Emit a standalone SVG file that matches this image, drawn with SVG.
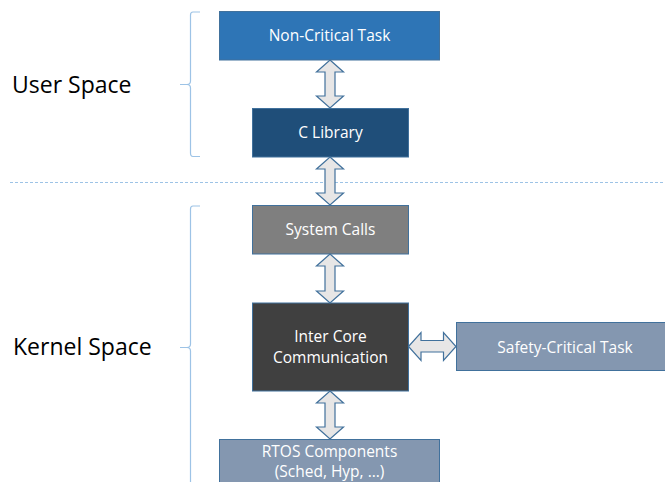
<svg xmlns="http://www.w3.org/2000/svg" width="665" height="482" viewBox="0 0 665 482">
  <style>
    .box { stroke: #41719C; stroke-width: 1; }
    .lbl { font-family: "Open Sans", "Liberation Sans", sans-serif; font-size: 15.5px; fill: #FFFFFF; text-anchor: middle; }
    .side { font-family: "Open Sans", "Liberation Sans", sans-serif; font-size: 23px; fill: #000000; }
    .brace { fill: none; stroke: #9DC3E6; stroke-width: 1.2; }
    .arrow { fill: #E7E6E6; stroke: #41719C; stroke-width: 1.2; stroke-linejoin: miter; }
  </style>
  <rect width="665" height="482" fill="#FFFFFF"/>

  <!-- side labels and braces -->
  <g id="user-space">
    <text class="side" x="12" y="93">User Space</text>
    <path class="brace" d="M200,12 H193 Q190.5,12 190.5,15 V81 Q190.5,84.5 187,84.5 H180 H187 Q190.5,84.5 190.5,88 V153 Q190.5,156.5 193,156.5 H200"/>
  </g>
  <g id="kernel-space">
    <text class="side" x="13" y="355">Kernel Space</text>
    <path class="brace" d="M200,206 H193 Q190.5,206 190.5,209 V344 Q190.5,347.5 187,347.5 H180 H187 Q190.5,347.5 190.5,351 V490"/>
  </g>

  <!-- user/kernel boundary -->
  <line x1="10" y1="182.5" x2="665" y2="182.5" stroke="#9DC3E6" stroke-width="1" stroke-dasharray="3,2"/>

  <!-- nodes -->
  <g id="non-critical-task">
    <rect class="box" x="219.5" y="11.5" width="220" height="48.5" fill="#2E75B6"/>
    <text class="lbl" x="329.5" y="41">Non-Critical Task</text>
  </g>
  <g id="c-library">
    <rect class="box" x="252.5" y="108.5" width="156" height="48.5" fill="#1F4E79"/>
    <text class="lbl" x="330.5" y="138">C Library</text>
  </g>
  <g id="system-calls">
    <rect class="box" x="252.5" y="205.5" width="156" height="48.5" fill="#7F7F7F"/>
    <text class="lbl" x="330.5" y="235">System Calls</text>
  </g>
  <g id="inter-core-communication">
    <rect class="box" x="252.5" y="303" width="156" height="88" fill="#404040"/>
    <text class="lbl" x="330.5" y="342">Inter Core</text>
    <text class="lbl" x="330.5" y="363">Communication</text>
  </g>
  <g id="safety-critical-task">
    <rect class="box" x="456.5" y="322.5" width="220" height="48" fill="#8497B0"/>
    <text class="lbl" x="565" y="353">Safety-Critical Task</text>
  </g>
  <g id="rtos-components">
    <rect class="box" x="219.5" y="439.5" width="220" height="60" fill="#8497B0"/>
    <text class="lbl" x="329.5" y="456.5">RTOS Components</text>
    <text class="lbl" x="329.5" y="477">(Sched, Hyp, …)</text>
  </g>

  <!-- connectors: double-headed block arrows -->
  <g id="connectors">
    <path class="arrow" d="M330,60 L343.5,72 L335,72 L335,96 L343.5,96 L330,108 L316.5,96 L325,96 L325,72 L316.5,72 Z"/>
    <path class="arrow" d="M330,157 L343.5,169 L335,169 L335,193 L343.5,193 L330,205 L316.5,193 L325,193 L325,169 L316.5,169 Z"/>
    <path class="arrow" d="M330,254 L343.5,266 L335,266 L335,291 L343.5,291 L330,303 L316.5,291 L325,291 L325,266 L316.5,266 Z"/>
    <path class="arrow" d="M330,391 L343.5,403 L335,403 L335,427 L343.5,427 L330,439 L316.5,427 L325,427 L325,403 L316.5,403 Z"/>
    <path class="arrow" d="M408.5,346.5 L421,332.5 L421,340.5 L443.5,340.5 L443.5,332.5 L456,346.5 L443.5,360.5 L443.5,352 L421,352 L421,360.5 Z"/>
  </g>
</svg>
